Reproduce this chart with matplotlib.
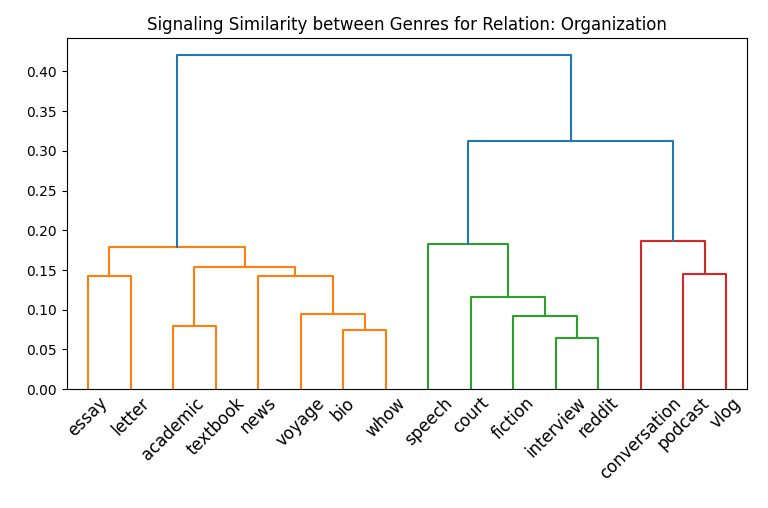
import matplotlib.pyplot as plt

# leaf labels in dendrogram order
labels = ['essay', 'letter', 'academic', 'textbook', 'news', 'voyage', 'bio', 'whow',
          'speech', 'court', 'fiction', 'interview', 'reddit', 'conversation', 'podcast', 'vlog']

# merges: (left node, right node, height); new node ids start at len(labels)
merges = [
    (0, 1, 0.142), (2, 3, 0.080), (6, 7, 0.075), (5, 18, 0.095), (4, 19, 0.142),
    (17, 20, 0.154), (16, 21, 0.179),
    (11, 12, 0.065), (10, 23, 0.092), (9, 24, 0.116), (8, 25, 0.183),
    (14, 15, 0.145), (13, 27, 0.187),
    (26, 28, 0.313), (22, 29, 0.421),
]
merge_colors = ['C1'] * 7 + ['C2'] * 4 + ['C3'] * 2 + ['C0'] * 2

fig, ax = plt.subplots(figsize=(7.68, 5.08), dpi=100)

xpos = {i: 5 + 10 * i for i in range(len(labels))}
ypos = {i: 0.0 for i in range(len(labels))}
for k, (a, b, h) in enumerate(merges):
    node = len(labels) + k
    xa, xb = xpos[a], xpos[b]
    ax.plot([xa, xa, xb, xb], [ypos[a], h, h, ypos[b]], color=merge_colors[k], lw=1.5)
    xpos[node] = (xa + xb) / 2
    ypos[node] = h

ax.set_xlim(0, 10 * len(labels))
ax.set_ylim(0, 0.442)
ax.set_xticks([5 + 10 * i for i in range(len(labels))])
ax.set_xticklabels(labels, rotation=45, fontsize=12, ha='center')
ax.tick_params(axis='x', length=0)
ax.set_title('Signaling Similarity between Genres for Relation: Organization')
plt.subplots_adjust(left=0.087, right=0.973, top=0.925, bottom=0.234)
plt.savefig('out.png')
